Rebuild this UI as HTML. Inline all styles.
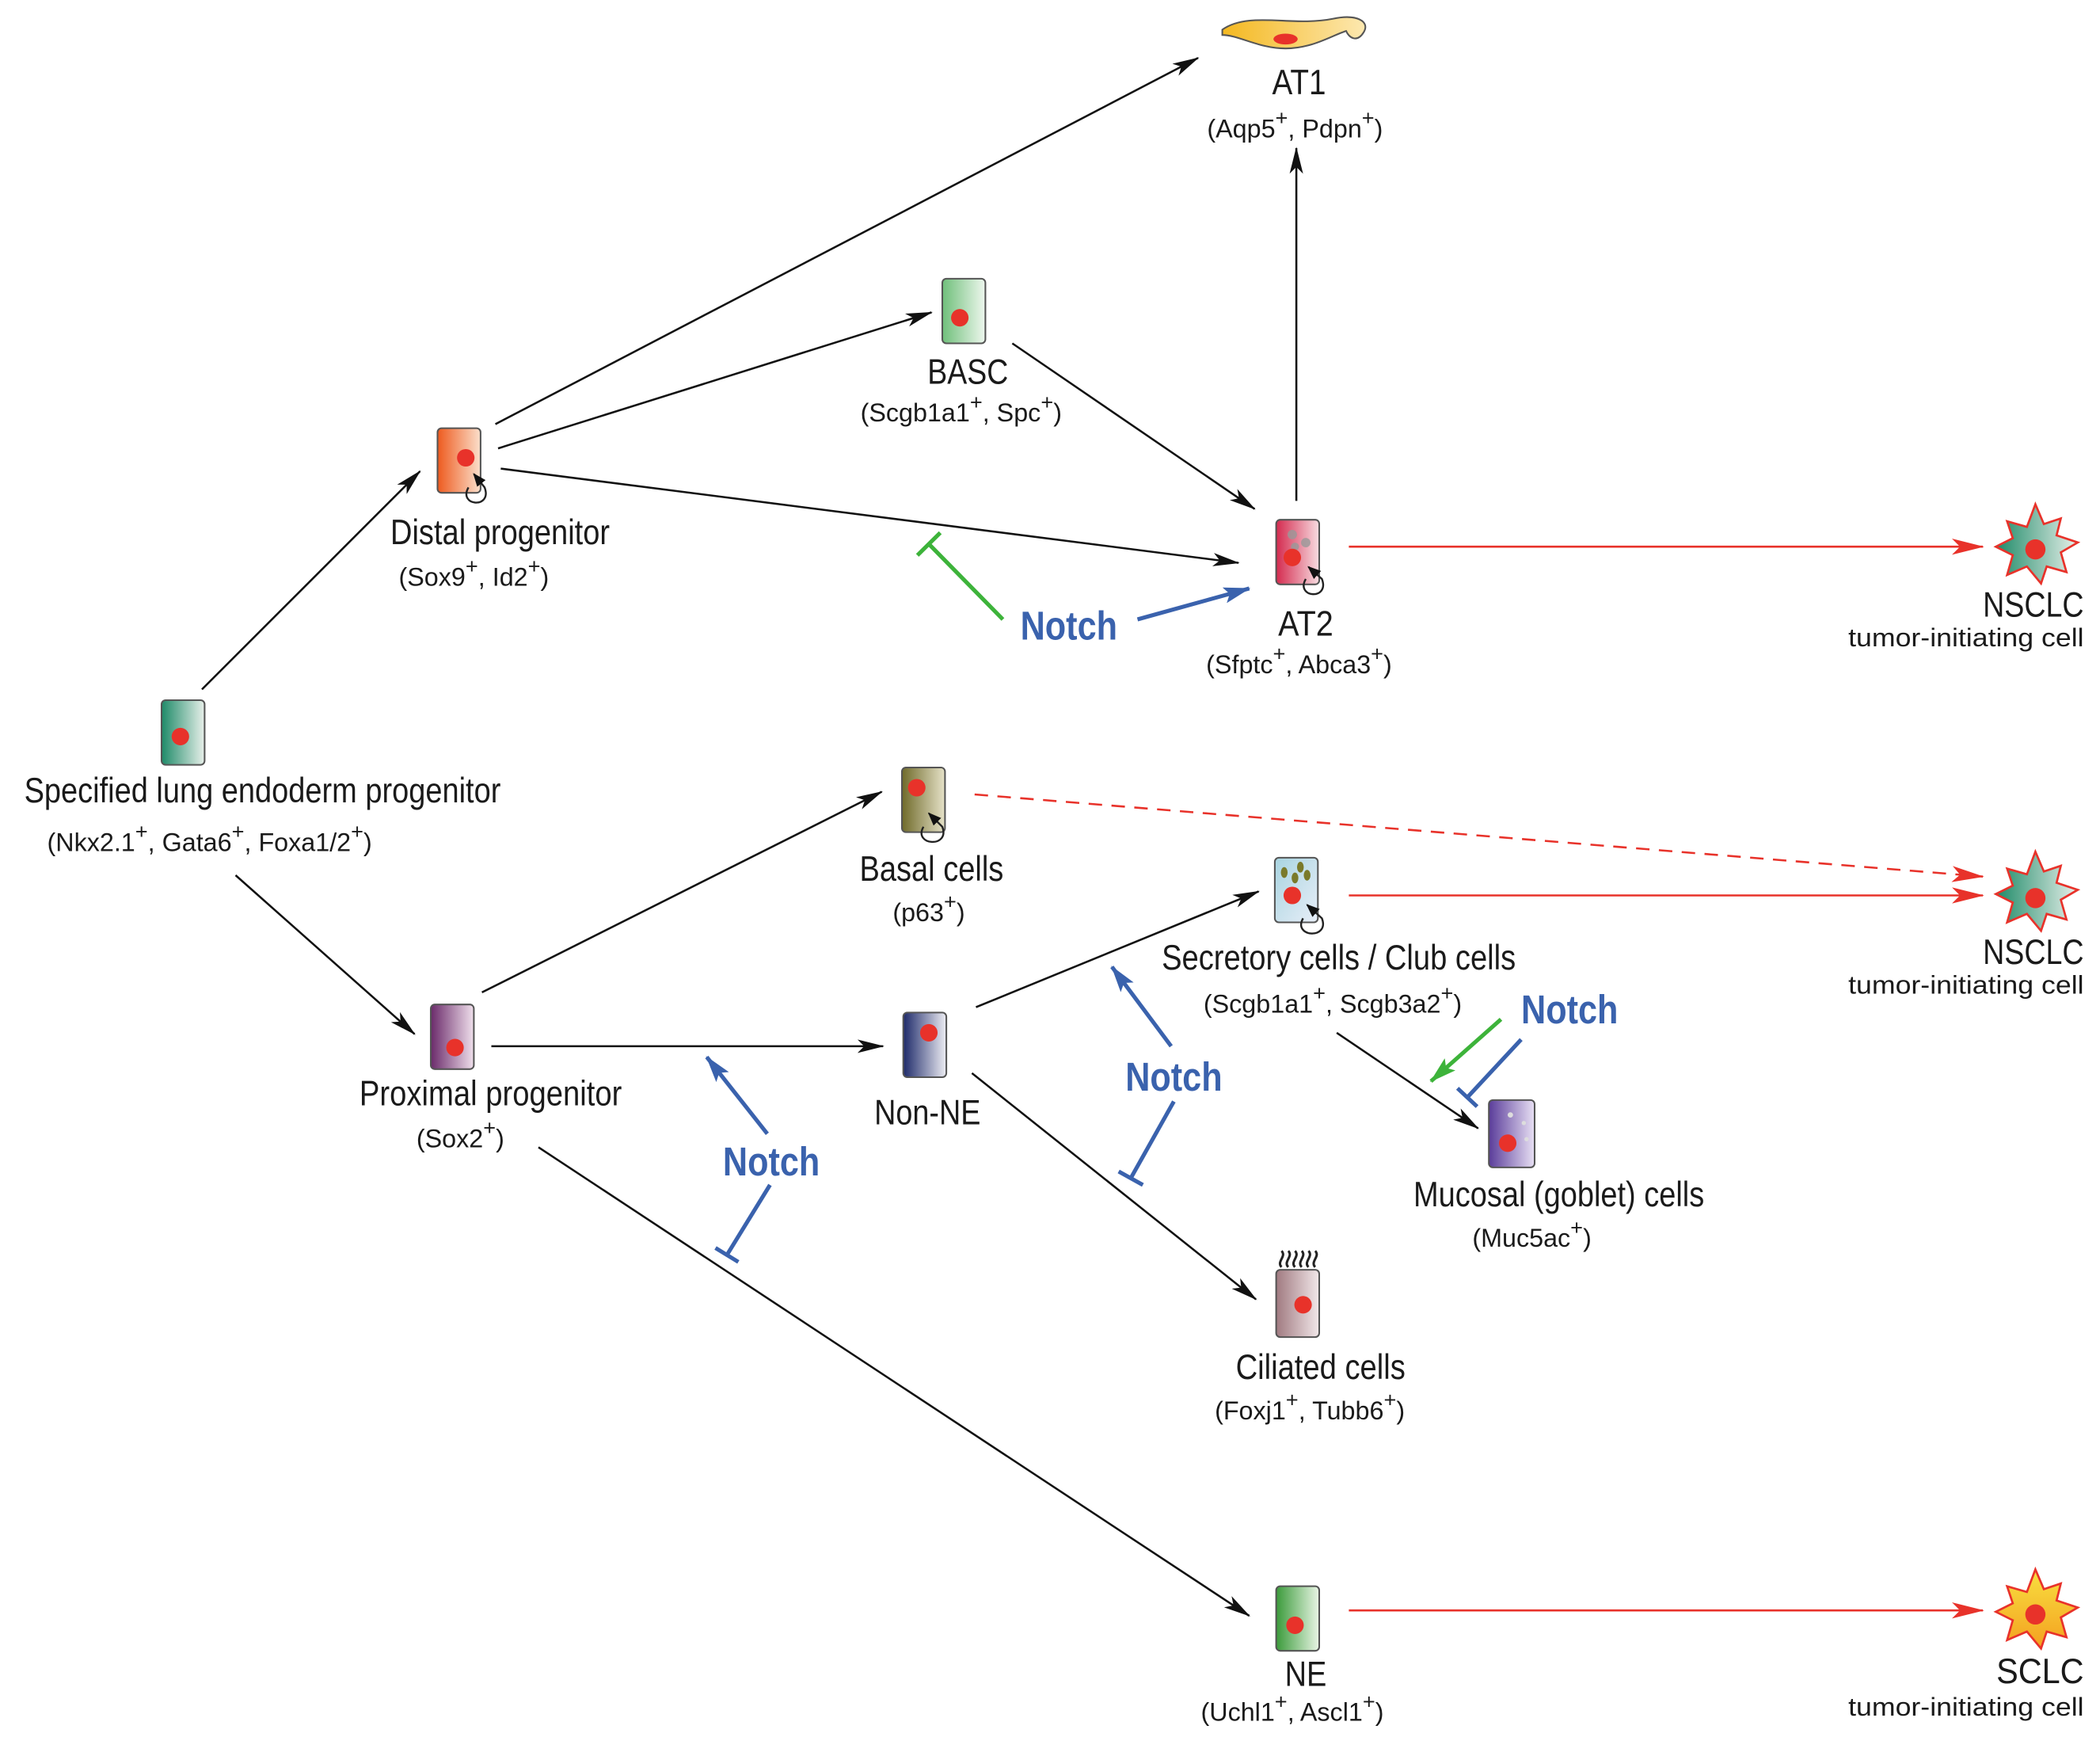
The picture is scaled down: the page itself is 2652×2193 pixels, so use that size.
<!DOCTYPE html>
<html><head><meta charset="utf-8"><style>
html,body{margin:0;padding:0;background:#fff}
svg{display:block}
text{font-family:"Liberation Sans",Arial,sans-serif;fill:#1a1a1a}
.l{font-size:26px}
.m{font-size:19px}
.n{font-size:30px;font-weight:bold;fill:#3a62ad}
</style></head><body>
<svg width="2652" height="2193" viewBox="0 0 1560 1290" xmlns="http://www.w3.org/2000/svg">
<defs>
<marker id="ak" viewBox="0 0 20 10" refX="19" refY="5" markerWidth="20" markerHeight="10" markerUnits="userSpaceOnUse" orient="auto"><path d="M0,0 L20,5 L0,10 L5,5z" fill="#111"/></marker>
<marker id="ar" viewBox="0 0 24 12" refX="23" refY="6" markerWidth="24" markerHeight="12" markerUnits="userSpaceOnUse" orient="auto"><path d="M0,0 L24,6 L0,12 L6,6z" fill="#e8322a"/></marker>
<marker id="ab" viewBox="0 0 20 12" refX="19" refY="6" markerWidth="20" markerHeight="12" markerUnits="userSpaceOnUse" orient="auto"><path d="M0,0 L20,6 L0,12 L4,6z" fill="#3a62ad"/></marker>
<marker id="ag" viewBox="0 0 20 12" refX="19" refY="6" markerWidth="20" markerHeight="12" markerUnits="userSpaceOnUse" orient="auto"><path d="M0,0 L20,6 L0,12 L4,6z" fill="#3db33a"/></marker>
<marker id="al" viewBox="0 0 10 8" refX="9" refY="4" markerWidth="10" markerHeight="8" markerUnits="userSpaceOnUse" orient="auto"><path d="M0,0 L10,4 L0,8z" fill="#111"/></marker>
<linearGradient id="gGreen"><stop offset="0" stop-color="#1e8a68"/><stop offset="1" stop-color="#e8f0ea"/></linearGradient>
<linearGradient id="gOrange"><stop offset="0" stop-color="#ee5a1e"/><stop offset="1" stop-color="#fbe0cc"/></linearGradient>
<linearGradient id="gBasc"><stop offset="0" stop-color="#6fbf7a"/><stop offset="1" stop-color="#eef7ee"/></linearGradient>
<linearGradient id="gAT2"><stop offset="0" stop-color="#d42a4e"/><stop offset="1" stop-color="#f8dde2"/></linearGradient>
<linearGradient id="gOlive"><stop offset="0" stop-color="#6f6a2a"/><stop offset="1" stop-color="#e6e2c8"/></linearGradient>
<linearGradient id="gPurple"><stop offset="0" stop-color="#6a2a6a"/><stop offset="1" stop-color="#f0e0ec"/></linearGradient>
<linearGradient id="gNavy"><stop offset="0" stop-color="#1e2a6a"/><stop offset="1" stop-color="#eeeef4"/></linearGradient>
<linearGradient id="gBlue" x2="1" y2="1"><stop offset="0" stop-color="#a8d4e0"/><stop offset="1" stop-color="#e8eef8"/></linearGradient>
<linearGradient id="gViolet"><stop offset="0" stop-color="#5a3c9a"/><stop offset="1" stop-color="#e8e0f4"/></linearGradient>
<linearGradient id="gCil"><stop offset="0" stop-color="#a07a80"/><stop offset="1" stop-color="#f2e8ea"/></linearGradient>
<linearGradient id="gNE"><stop offset="0" stop-color="#3a9a3a"/><stop offset="1" stop-color="#eaf6e6"/></linearGradient>
<linearGradient id="gAT1"><stop offset="0" stop-color="#f4b820"/><stop offset="1" stop-color="#fde8b0"/></linearGradient>
<linearGradient id="gStarG"><stop offset="0" stop-color="#1e8a68"/><stop offset="1" stop-color="#e8f0ea"/></linearGradient>
<linearGradient id="gStarY" x2="0" y2="1"><stop offset="0" stop-color="#f8e040"/><stop offset="1" stop-color="#f4a020"/></linearGradient>
<path id="star" d="M0,-30 L6,-16 L18,-20 L15,-8 L30,-3 L18,4 L22,18 L8,14 L4,26 L-6,14 L-20,20 L-16,6 L-28,0 L-16,-6 L-20,-18 L-6,-14z"/>
</defs>

<g stroke="#555" stroke-width="1.2">
<rect x="120" y="520" width="32" height="48" rx="3" fill="url(#gGreen)"/>
<rect x="325" y="318" width="32" height="48" rx="3" fill="url(#gOrange)"/>
<rect x="700" y="207" width="32" height="48" rx="3" fill="url(#gBasc)"/>
<rect x="948" y="386" width="32" height="48" rx="3" fill="url(#gAT2)"/>
<rect x="670" y="570" width="32" height="48" rx="3" fill="url(#gOlive)"/>
<rect x="320" y="746" width="32" height="48" rx="3" fill="url(#gPurple)"/>
<rect x="671" y="752" width="32" height="48" rx="3" fill="url(#gNavy)"/>
<rect x="947" y="637" width="32" height="48" rx="3" fill="url(#gBlue)"/>
<rect x="1106" y="817" width="34" height="50" rx="3" fill="url(#gViolet)"/>
<rect x="948" y="943" width="32" height="50" rx="3" fill="url(#gCil)"/>
<rect x="948" y="1178" width="32" height="48" rx="3" fill="url(#gNE)"/>
<path d="M908,22 C928,8 960,20 990,14 C1008,10 1018,16 1013,24 C1008,32 1002,28 1000,23 C990,26 975,36 955,36 C935,36 920,26 908,26z" fill="url(#gAT1)"/>
</g>
<g fill="#999" opacity="0.8"><circle cx="960" cy="397" r="3.5"/><circle cx="970" cy="403" r="3.5"/><circle cx="962" cy="406" r="3"/></g>
<g fill="#7a7a2a"><ellipse cx="954" cy="648" rx="2.5" ry="4"/><ellipse cx="962" cy="652" rx="2.5" ry="4"/><ellipse cx="966" cy="644" rx="2.5" ry="4"/><ellipse cx="971" cy="650" rx="2.5" ry="4"/></g>
<g fill="#ddd"><circle cx="1122" cy="828" r="2"/><circle cx="1132" cy="834" r="1.6"/><circle cx="1134" cy="846" r="1.6"/></g>
<g fill="none" stroke="#222" stroke-width="1.8">
<path d="M952,941 c-4,-4 4,-8 0,-12"/><path d="M957,941 c-4,-4 4,-8 0,-12"/><path d="M962,941 c-4,-4 4,-8 0,-12"/><path d="M967,941 c-4,-4 4,-8 0,-12"/><path d="M972,941 c-4,-4 4,-8 0,-12"/><path d="M977,941 c-4,-4 4,-8 0,-12"/>
</g>
<g fill="#e8322a">
<circle cx="134" cy="547" r="6.5"/><circle cx="346" cy="340" r="6.5"/><circle cx="713" cy="236" r="6.5"/><circle cx="960" cy="414" r="6.5"/>
<circle cx="681" cy="585" r="6.5"/><circle cx="338" cy="778" r="6.5"/><circle cx="690" cy="767" r="6.5"/><circle cx="960" cy="665" r="6.5"/>
<circle cx="1120" cy="849" r="6.5"/><circle cx="968" cy="969" r="6.5"/><circle cx="962" cy="1207" r="6.5"/><ellipse cx="955" cy="29" rx="9" ry="4"/>
</g>
<g fill="none" stroke="#222" stroke-width="1.4" marker-end="url(#al)">
<path d="M348,362 C340,376 366,378 360,362 L352,352"/>
<path d="M970,430 C962,444 988,446 982,430 L972,421"/>
<path d="M686,614 C678,628 706,630 700,614 L690,604"/>
<path d="M968,682 C960,696 988,698 982,682 L971,672"/>
</g>
<use href="#star" transform="translate(1512,406) scale(1.05)" fill="url(#gStarG)" stroke="#e8322a" stroke-width="1.5"/>
<use href="#star" transform="translate(1512,664) scale(1.05)" fill="url(#gStarG)" stroke="#e8322a" stroke-width="1.5"/>
<use href="#star" transform="translate(1512,1197) scale(1.05)" fill="url(#gStarY)" stroke="#e8322a" stroke-width="1.5"/>
<g fill="#e8322a"><circle cx="1512" cy="408" r="7.5"/><circle cx="1512" cy="667" r="7.5"/><circle cx="1512" cy="1199" r="7.5"/></g>

<g stroke="#111" stroke-width="1.5" marker-end="url(#ak)" fill="none">
<line x1="150" y1="512" x2="312" y2="350"/>
<line x1="175" y1="650" x2="308" y2="768"/>
<line x1="368" y1="315" x2="890" y2="43"/>
<line x1="370" y1="333" x2="692" y2="232"/>
<line x1="372" y1="348" x2="920" y2="418"/>
<line x1="752" y1="255" x2="932" y2="378"/>
<line x1="963" y1="372" x2="963" y2="110"/>
<line x1="358" y1="737" x2="655" y2="588"/>
<line x1="365" y1="777" x2="656" y2="777"/>
<line x1="400" y1="852" x2="928" y2="1200"/>
<line x1="725" y1="748" x2="935" y2="662"/>
<line x1="722" y1="797" x2="933" y2="965"/>
<line x1="993" y1="767" x2="1098" y2="838"/>
</g>
<g stroke="#e8322a" stroke-width="1.5" marker-end="url(#ar)" fill="none">
<line x1="1002" y1="406" x2="1473" y2="406"/>
<line x1="724" y1="590" x2="1473" y2="651" stroke-dasharray="10,7"/>
<line x1="1002" y1="665" x2="1473" y2="665"/>
<line x1="1002" y1="1196" x2="1473" y2="1196"/>
</g>
<g stroke="#3a62ad" stroke-width="3" fill="none">
<line x1="845" y1="460" x2="928" y2="437" marker-end="url(#ab)"/>
<line x1="870" y1="777" x2="826" y2="718" marker-end="url(#ab)"/>
<line x1="570" y1="842" x2="525" y2="785" marker-end="url(#ab)"/>
<line x1="872" y1="818" x2="840" y2="875"/><line x1="831" y1="870" x2="849" y2="880"/>
<line x1="572" y1="880" x2="540" y2="932"/><line x1="531.5" y1="926.8" x2="548.5" y2="937.2"/>
<line x1="1130" y1="772" x2="1090" y2="815"/><line x1="1082.7" y1="808.2" x2="1097.3" y2="821.8"/>
</g>
<g stroke="#3db33a" stroke-width="3" fill="none">
<line x1="745" y1="460" x2="690" y2="404"/><line x1="681.5" y1="412.4" x2="698.5" y2="395.6"/>
<line x1="1115" y1="757" x2="1063" y2="803" marker-end="url(#ag)"/>
</g>
<text class="n" x="758" y="475" textLength="72" lengthAdjust="spacingAndGlyphs">Notch</text>
<text class="n" x="1130" y="760" textLength="72" lengthAdjust="spacingAndGlyphs">Notch</text>
<text class="n" x="836" y="810" textLength="72" lengthAdjust="spacingAndGlyphs">Notch</text>
<text class="n" x="537" y="873" textLength="72" lengthAdjust="spacingAndGlyphs">Notch</text>

<g text-anchor="middle">
<text class="l" x="965" y="70" textLength="40" lengthAdjust="spacingAndGlyphs">AT1</text>
<text class="m" x="962" y="102">(Aqp5<tspan dy="-9" font-size="16">+</tspan><tspan dy="9">,  Pdpn</tspan><tspan dy="-9" font-size="16">+</tspan><tspan dy="9">)</tspan></text>
<text class="l" x="719" y="285" textLength="60" lengthAdjust="spacingAndGlyphs">BASC</text>
<text class="m" x="714" y="313">(Scgb1a1<tspan dy="-9" font-size="16">+</tspan><tspan dy="9">,  Spc</tspan><tspan dy="-9" font-size="16">+</tspan><tspan dy="9">)</tspan></text>
<text class="m" x="352" y="435">(Sox9<tspan dy="-9" font-size="16">+</tspan><tspan dy="9">,  Id2</tspan><tspan dy="-9" font-size="16">+</tspan><tspan dy="9">)</tspan></text>
<text class="l" x="970" y="472" textLength="41" lengthAdjust="spacingAndGlyphs">AT2</text>
<text class="m" x="965" y="500">(Sfptc<tspan dy="-9" font-size="16">+</tspan><tspan dy="9">,  Abca3</tspan><tspan dy="-9" font-size="16">+</tspan><tspan dy="9">)</tspan></text>
<text class="l" x="692" y="654" textLength="107" lengthAdjust="spacingAndGlyphs">Basal cells</text>
<text class="m" x="690" y="684">(p63<tspan dy="-9" font-size="16">+</tspan><tspan dy="9">)</tspan></text>
<text class="m" x="990" y="752">(Scgb1a1<tspan dy="-9" font-size="16">+</tspan><tspan dy="9">,  Scgb3a2</tspan><tspan dy="-9" font-size="16">+</tspan><tspan dy="9">)</tspan></text>
<text class="m" x="342" y="852">(Sox2<tspan dy="-9" font-size="16">+</tspan><tspan dy="9">)</tspan></text>
<text class="l" x="689" y="835" textLength="79" lengthAdjust="spacingAndGlyphs">Non-NE</text>
<text class="m" x="1138" y="926">(Muc5ac<tspan dy="-9" font-size="16">+</tspan><tspan dy="9">)</tspan></text>
<text class="l" x="981" y="1024" textLength="126" lengthAdjust="spacingAndGlyphs">Ciliated cells</text>
<text class="m" x="973" y="1054">(Foxj1<tspan dy="-9" font-size="16">+</tspan><tspan dy="9">,  Tubb6</tspan><tspan dy="-9" font-size="16">+</tspan><tspan dy="9">)</tspan></text>
<text class="l" x="970" y="1252" textLength="31" lengthAdjust="spacingAndGlyphs">NE</text>
<text class="m" x="960" y="1278">(Uchl1<tspan dy="-9" font-size="16">+</tspan><tspan dy="9">,  Ascl1</tspan><tspan dy="-9" font-size="16">+</tspan><tspan dy="9">)</tspan></text>
</g>
<text class="l" x="290" y="404" textLength="163" lengthAdjust="spacingAndGlyphs">Distal progenitor</text>
<text class="l" x="18" y="596" textLength="354" lengthAdjust="spacingAndGlyphs">Specified lung endoderm progenitor</text>
<text class="m" x="35" y="632">(Nkx2.1<tspan dy="-9" font-size="16">+</tspan><tspan dy="9">,  Gata6</tspan><tspan dy="-9" font-size="16">+</tspan><tspan dy="9">,  Foxa1/2</tspan><tspan dy="-9" font-size="16">+</tspan><tspan dy="9">)</tspan></text>
<text class="l" x="863" y="720" textLength="263" lengthAdjust="spacingAndGlyphs">Secretory cells / Club cells</text>
<text class="l" x="267" y="821" textLength="195" lengthAdjust="spacingAndGlyphs">Proximal progenitor</text>
<text class="l" x="1050" y="896" textLength="216" lengthAdjust="spacingAndGlyphs">Mucosal (goblet) cells</text>
<text class="l" x="1473" y="458" textLength="75" lengthAdjust="spacingAndGlyphs">NSCLC</text>
<text class="m" x="1373" y="480" font-size="20" textLength="175" lengthAdjust="spacingAndGlyphs">tumor-initiating cell</text>
<text class="l" x="1473" y="716" textLength="75" lengthAdjust="spacingAndGlyphs">NSCLC</text>
<text class="m" x="1373" y="738" font-size="20" textLength="175" lengthAdjust="spacingAndGlyphs">tumor-initiating cell</text>
<text class="l" x="1483" y="1250" textLength="65" lengthAdjust="spacingAndGlyphs">SCLC</text>
<text class="m" x="1373" y="1274" font-size="20" textLength="175" lengthAdjust="spacingAndGlyphs">tumor-initiating cell</text>
</svg>
</body></html>
